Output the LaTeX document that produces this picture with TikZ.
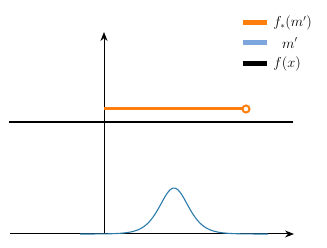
\documentclass[tikz,border=0pt]{standalone}
\usepackage{amsfonts,amsmath,amssymb}
\usepackage{xcolor}
\usepackage{tikz}
\usetikzlibrary{arrows.meta,positioning}
\definecolor{pushorange}{HTML}{FF7F0E}
\definecolor{mlight}{HTML}{7EA6DE}
\definecolor{mcurve}{HTML}{2A7AAA}
\tikzset{
  legkey/.style={draw=none,inner sep=0pt,minimum width=24pt,minimum height=5pt},
  legtext/.style={inner sep=1pt,font=\fontsize{13.5}{15}\selectfont}
}
\begin{document}
\begin{tikzpicture}[>={Stealth[length=9pt,width=7pt]},x=1pt,y=-1pt]
\useasboundingbox (0,0) rectangle (327,248);
\coordinate (O) at (104,234);
\coordinate (xl) at (10,234);
\coordinate (xr) at (294,234);
\coordinate (yt) at (104,32);
\coordinate (fl) at (9,122);
\coordinate (fr) at (293,122);
\coordinate (ps) at (104,109);
\node[shape=circle,draw=pushorange,line width=2pt,fill=white,minimum size=7pt,inner sep=0pt] (pe) at (246,109) {};
% axes
\draw[line width=1pt,->] (xl)--(xr);
\draw[line width=1pt,->] (O)--(yt);
% f(x)
\draw[line width=2pt,black] (fl)--(fr);
% pushforward
\draw[line width=3pt,pushorange] (ps)--(pe.west);
% density m'
\draw[domain=80:268,smooth,samples=120,variable=\x,line width=1.1pt,mcurve]plot({\x},{234-46/(cosh((\x-174)/19.3))^2});
% legend
\node[legkey,fill=pushorange] (ko) at (255,23) {};
\node[legkey,fill=mlight] (km) at (255,43) {};
\node[legkey,fill=black] (kf) at (255,64) {};
\node[legtext,right=5pt of ko] (lo) {$f_*(m')$};
\node[legtext,anchor=west] (lm) at (281,43) {$m'$};
\node[legtext,right=5pt of kf] (lf) {$f(x)$};
\end{tikzpicture}
\end{document}
